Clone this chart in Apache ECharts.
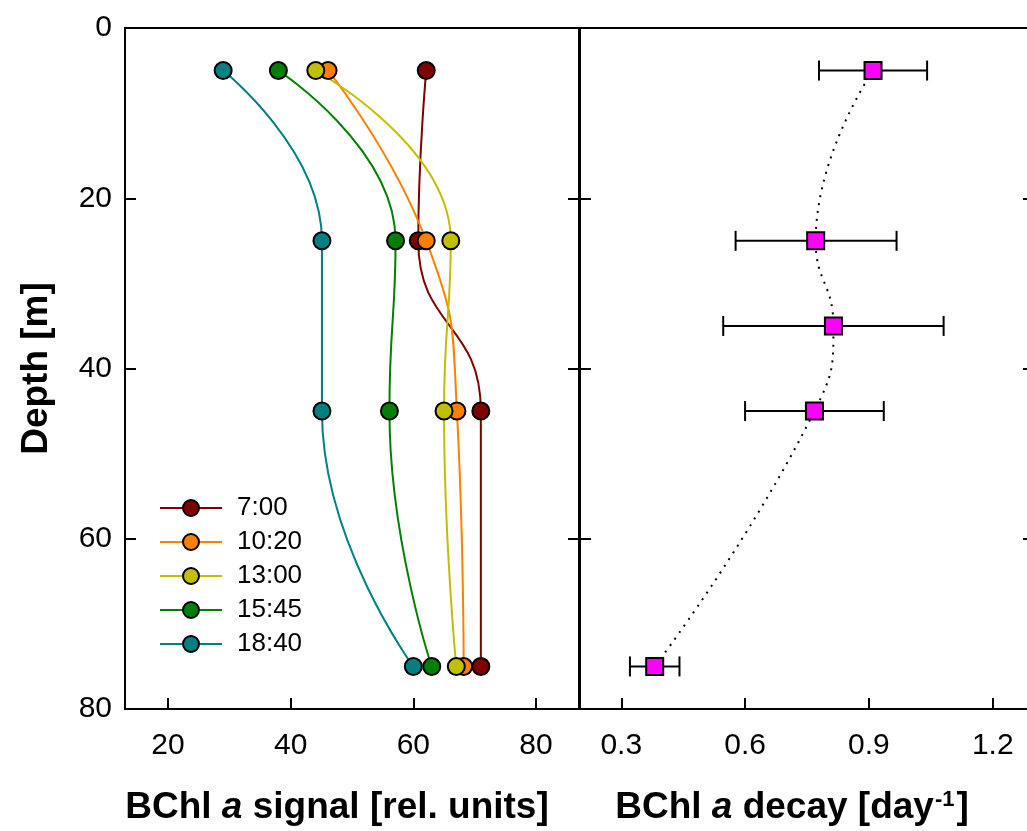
<!DOCTYPE html>
<html>
<head>
<meta charset="utf-8">
<script src="https://cdn.jsdelivr.net/npm/echarts@6/dist/echarts.min.js"></script>
<style>
  html, body { margin: 0; padding: 0; background: #fff; }
  #chart { width: 1027px; height: 831px; }
</style>
</head>
<body>
<div id="chart"></div>
<script>
// depth profiles, values
const depths = [5, 25, 45, 75];
const times = ['7:00', '10:20', '13:00', '15:45', '18:40'];
const signal0700 = [62.1, 60.8, 71.0, 71.0];
const signal1020 = [46.1, 62.1, 67.1, 68.2];
const signal1300 = [44.1, 66.1, 65.0, 67.0];
const signal1545 = [38.0, 57.1, 56.1, 63.0];
const signal1840 = [29.0, 45.1, 45.1, 60.0];

const decayDepths = [5, 25, 35, 45, 75];
const decayMean = [0.910, 0.771, 0.814, 0.768, 0.381];
const decayLow = [0.779, 0.577, 0.547, 0.600, 0.321];
const decayHigh = [1.041, 0.967, 1.081, 0.936, 0.441];

const signalTicks = [20, 40, 60, 80];
const decayTicks = [0.3, 0.6, 0.9, 1.2];

const colors = ['#7f0000', '#ff8000', '#c0c000', '#008000', '#008080'];
const font = 'Liberation Sans, Arial, sans-serif';

const signals = [signal0700, signal1020, signal1300, signal1545, signal1840];

const chart = echarts.init(document.getElementById('chart'));

const tickStyle = { show: true, inside: true, length: 11, lineStyle: { color: '#000', width: 2 } };
const noLine = { show: false, onZero: false };

const profileSeries = signals.map((vals, i) => ({
  name: times[i],
  type: 'line',
  xAxisIndex: 0,
  yAxisIndex: 0,
  smooth: 0.5,
  data: vals.map((v, k) => [v, depths[k]]),
  symbol: 'circle',
  symbolSize: 17,
  lineStyle: { color: colors[i], width: 2 },
  itemStyle: { color: colors[i], borderColor: '#000', borderWidth: 2 }
}));

const option = {
  animation: false,
  textStyle: { fontFamily: font },
  grid: [
    { left: 125, top: 28, width: 454, height: 681, show: true, borderColor: '#000', borderWidth: 2, outerBoundsMode: 'none' },
    { left: 580, top: 28, width: 454, height: 681, show: true, borderColor: '#000', borderWidth: 2, outerBoundsMode: 'none' }
  ],
  legend: {
    orient: 'vertical',
    left: 159,
    top: 495,
    padding: 0,
    itemWidth: 62,
    itemHeight: 20,
    itemGap: 8,
    data: times,
    textStyle: { fontSize: 26, color: '#000', fontFamily: font, padding: [0, 0, 0, 10] }
  },
  xAxis: [
    {
      gridIndex: 0, type: 'value', min: 13, max: 87,
      name: 'BChl {i|a} signal [rel. units]',
      nameLocation: 'middle', nameGap: 80,
      nameTextStyle: {
        fontSize: 37, fontWeight: 'bold', color: '#000', fontFamily: font,
        padding: [0, 30, 0, 0],
        rich: { i: { fontSize: 37, fontWeight: 'bold', fontStyle: 'italic', color: '#000', fontFamily: font } }
      },
      axisLine: noLine,
      splitLine: { show: false },
      axisTick: Object.assign({ customValues: signalTicks }, tickStyle),
      axisLabel: { customValues: signalTicks, fontSize: 30, color: '#000', margin: 22, fontFamily: font }
    },
    {
      gridIndex: 1, type: 'value', min: 0.2, max: 1.3,
      name: 'BChl {i|a} decay [day{sup|-1}]',
      nameLocation: 'middle', nameGap: 80,
      nameTextStyle: {
        fontSize: 37, fontWeight: 'bold', color: '#000', fontFamily: font,
        padding: [0, 30, 0, 0],
        rich: {
          i: { fontSize: 37, fontWeight: 'bold', fontStyle: 'italic', color: '#000', fontFamily: font },
          sup: { fontSize: 22, fontWeight: 'bold', color: '#000', fontFamily: font, verticalAlign: 'top', padding: [0, 2, 0, 1] }
        }
      },
      axisLine: noLine,
      splitLine: { show: false },
      axisTick: Object.assign({ customValues: decayTicks }, tickStyle),
      axisLabel: {
        customValues: decayTicks, fontSize: 30, color: '#000', margin: 22, fontFamily: font,
        formatter: v => v.toFixed(1)
      }
    }
  ],
  yAxis: [
    {
      gridIndex: 0, type: 'value', inverse: true, min: 0, max: 80, interval: 20,
      name: 'Depth [m]', nameLocation: 'middle', nameGap: 70,
      nameTextStyle: { fontSize: 37, fontWeight: 'bold', color: '#000', fontFamily: font },
      axisLine: noLine,
      splitLine: { show: false },
      axisTick: tickStyle,
      axisLabel: { fontSize: 30, color: '#000', margin: 13, fontFamily: font }
    },
    {
      gridIndex: 0, type: 'value', inverse: true, min: 0, max: 80, interval: 20, position: 'right',
      axisLine: noLine, splitLine: { show: false }, axisTick: tickStyle, axisLabel: { show: false }
    },
    {
      gridIndex: 1, type: 'value', inverse: true, min: 0, max: 80, interval: 20, position: 'left',
      axisLine: noLine, splitLine: { show: false }, axisTick: tickStyle, axisLabel: { show: false }
    },
    {
      gridIndex: 1, type: 'value', inverse: true, min: 0, max: 80, interval: 20, position: 'right',
      axisLine: noLine, splitLine: { show: false }, axisTick: tickStyle, axisLabel: { show: false }
    }
  ],
  series: profileSeries.concat([
    {
      type: 'custom',
      xAxisIndex: 1,
      yAxisIndex: 2,
      z: 2,
      data: decayDepths.map((d, k) => [decayLow[k], decayHigh[k], d]),
      encode: { x: [0, 1], y: 2 },
      renderItem: (params, api) => {
        const a = api.coord([api.value(0), api.value(2)]);
        const b = api.coord([api.value(1), api.value(2)]);
        const h = 10;
        const st = { stroke: '#000', lineWidth: 2 };
        return {
          type: 'group',
          children: [
            { type: 'line', shape: { x1: a[0], y1: a[1], x2: b[0], y2: b[1] }, style: st },
            { type: 'line', shape: { x1: a[0], y1: a[1] - h, x2: a[0], y2: a[1] + h }, style: st },
            { type: 'line', shape: { x1: b[0], y1: b[1] - h, x2: b[0], y2: b[1] + h }, style: st }
          ]
        };
      }
    },
    {
      type: 'line',
      xAxisIndex: 1,
      yAxisIndex: 2,
      z: 3,
      smooth: 0.5,
      data: decayDepths.map((d, k) => [decayMean[k], d]),
      symbol: 'rect',
      symbolSize: 17,
      lineStyle: { color: '#000', width: 2, type: [2, 6] },
      itemStyle: { color: '#ff00ff', borderColor: '#000', borderWidth: 2 }
    }
  ])
};

chart.setOption(option);
</script>
</body>
</html>
